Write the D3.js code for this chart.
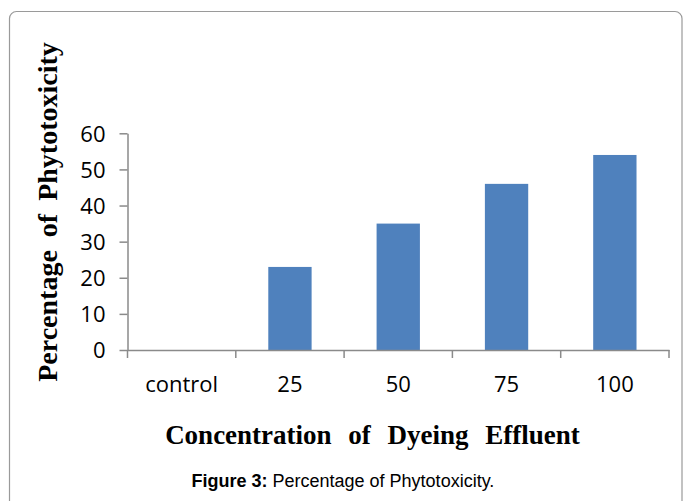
<!DOCTYPE html>
<html>
<head>
<meta charset="utf-8">
<script src="https://cdn.jsdelivr.net/npm/d3@7"></script>
<style>
  html, body { margin: 0; padding: 0; background: #fff; }
  svg { display: block; }
</style>
</head>
<body>
<svg id="chart" width="683" height="501"></svg>
<script>
// ---- data ----
const categories = ["control", "25", "50", "75", "100"];
const values = [0, 23, 35, 46, 54];
const yTicks = [0, 10, 20, 30, 40, 50, 60];
const xTitle = "Concentration of Dyeing Effluent";
const yTitle = "Percentage of Phytotoxicity";
const captionBold = "Figure 3:";
const captionText = " Percentage of Phytotoxicity.";

// ---- layout ----
const svg = d3.select("#chart");
const axisColor = "#8a8a8a";
const barColor = "#4F81BD";

// frame
svg.append("rect")
  .attr("x", 9.5).attr("y", 11.5)
  .attr("width", 672.5).attr("height", 530)
  .attr("rx", 7).attr("ry", 7)
  .attr("fill", "#fff")
  .attr("stroke", "#9a9a9a").attr("stroke-width", 1.2);

const x = d3.scaleBand()
  .domain(categories)
  .range([127.5, 669])
  .paddingInner(0.6)
  .paddingOuter(0.3);

const y = d3.scaleLinear()
  .domain([0, 60])
  .range([350, 133.3]);

// bars
svg.append("g").selectAll("rect")
  .data(values)
  .join("rect")
  .attr("x", (d, i) => x(categories[i]))
  .attr("y", d => y(d))
  .attr("width", x.bandwidth())
  .attr("height", d => y(0) - y(d))
  .attr("fill", barColor);

// y axis
const gy = svg.append("g")
  .attr("transform", `translate(${x.range()[0]},0)`)
  .call(d3.axisLeft(y).tickValues(yTicks).tickSize(8).tickPadding(14).tickSizeOuter(0));
gy.select(".domain").attr("stroke", axisColor).attr("stroke-width", 1.5);
gy.selectAll(".tick line").attr("stroke", axisColor).attr("stroke-width", 1.5);
gy.selectAll(".tick text")
  .attr("font-family", "'Open Sans', sans-serif")
  .attr("font-size", 22)
  .attr("fill", "#000")
  .attr("dy", "0.36em");

// x axis (labels)
const gx = svg.append("g")
  .attr("transform", `translate(0,${y(0)})`)
  .call(d3.axisBottom(x).tickSize(0).tickSizeOuter(0));
gx.select(".domain").attr("stroke", axisColor).attr("stroke-width", 1.5);
gx.selectAll(".tick text")
  .attr("font-family", "'Open Sans', sans-serif")
  .attr("font-size", 22)
  .attr("fill", "#000")
  .attr("y", 42)
  .attr("dy", 0);

// x boundary ticks
const bounds = d3.range(categories.length + 1).map(i => x.range()[0] + i * x.step());
gx.selectAll(".bound")
  .data(bounds)
  .join("line")
  .attr("class", "bound")
  .attr("x1", d => d).attr("x2", d => d)
  .attr("y1", 0).attr("y2", 8)
  .attr("stroke", axisColor).attr("stroke-width", 1.5);

// axis titles
svg.append("text")
  .attr("x", 372.5).attr("y", 443.5)
  .attr("text-anchor", "middle")
  .attr("font-family", "'Liberation Serif', 'Times New Roman', serif")
  .attr("font-weight", "bold")
  .attr("font-size", 27)
  .style("word-spacing", "10px")
  .attr("fill", "#000")
  .text(xTitle);

svg.append("text")
  .attr("transform", "translate(57,212) rotate(-90)")
  .attr("text-anchor", "middle")
  .attr("font-family", "'Liberation Serif', 'Times New Roman', serif")
  .attr("font-weight", "bold")
  .attr("font-size", 28)
  .style("word-spacing", "6px")
  .attr("fill", "#000")
  .text(yTitle);

// caption
const cap = svg.append("text")
  .attr("x", 191.5).attr("y", 486.5)
  .attr("font-family", "'Liberation Sans', Arial, sans-serif")
  .attr("font-size", 18)
  .attr("fill", "#000");
cap.append("tspan").attr("font-weight", "bold").text(captionBold);
cap.append("tspan").attr("font-weight", "normal").text(captionText);
</script>
</body>
</html>
